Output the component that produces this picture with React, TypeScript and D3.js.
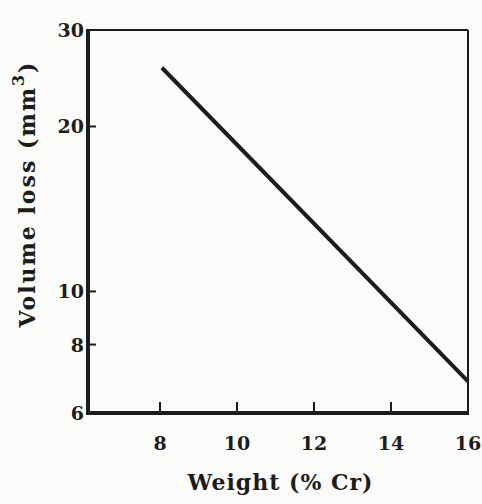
import React from "react";
import * as d3 from "d3";

// Wear volume loss vs chromium content (log volume axis)
const lineWeight: number[] = [8.05, 16];
const lineVolume: number[] = [25.6, 6.85];
const xTicks: number[] = [8, 10, 12, 14, 16];
const yTicks: number[] = [6, 8, 10, 20, 30];
const xDomain: [number, number] = [6.13, 16];
const yDomain: [number, number] = [6, 30];

const W = 482;
const H = 504;
const left = 88;
const right = 468;
const top = 30;
const bottom = 413;

export default function App() {
  const x = d3.scaleLinear().domain(xDomain).range([left, right]);
  const y = d3.scaleLog().domain(yDomain).range([bottom, top]);
  const pts: [number, number][] = lineWeight.map((w, i) => [w, lineVolume[i]]);
  const path = d3
    .line<[number, number]>()
    .x((d) => x(d[0]))
    .y((d) => y(d[1]))(pts);
  const font = "'DejaVu Serif', 'Liberation Serif', serif";
  const ink = "#1c1c1c";

  return (
    <svg
      width={W}
      height={H}
      style={{ position: "absolute", left: 0, top: 0, background: "#fbfbfa" }}
    >
      <rect x={0} y={0} width={W} height={H} fill="#fbfbfa" />
      {/* frame: heavy left/bottom axes, lighter top/right */}
      <line x1={left} y1={top} x2={right} y2={top} stroke={ink} strokeWidth={2} />
      <line x1={right} y1={top} x2={right} y2={bottom} stroke={ink} strokeWidth={2} />
      <line x1={left} y1={top - 1} x2={left} y2={bottom + 2} stroke={ink} strokeWidth={4} />
      <line x1={left - 2} y1={bottom} x2={right + 1} y2={bottom} stroke={ink} strokeWidth={4} />

      {/* y ticks (inward) */}
      {yTicks.map((t) => (
        <g key={"y" + t}>
          {t !== 30 && t !== 6 && (
            <line x1={left} x2={left + 8} y1={y(t)} y2={y(t)} stroke={ink} strokeWidth={2} />
          )}
          <text
            x={left - 4}
            y={y(t)}
            textAnchor="end"
            dominantBaseline="central"
            fontFamily={font}
            fontWeight="bold"
            fontSize={19}
            fill={ink}
          >
            {t}
          </text>
        </g>
      ))}

      {/* x ticks (upward) */}
      {xTicks.map((t) => (
        <g key={"x" + t}>
          {t !== 16 && (
            <line x1={x(t)} x2={x(t)} y1={bottom} y2={bottom - 11} stroke={ink} strokeWidth={2} />
          )}
          <text
            x={x(t)}
            y={443}
            textAnchor="middle"
            dominantBaseline="central"
            fontFamily={font}
            fontWeight="bold"
            fontSize={19}
            fill={ink}
          >
            {t}
          </text>
        </g>
      ))}

      <path d={path ?? ""} fill="none" stroke={ink} strokeWidth={4} />

      <text
        x={280}
        y={482}
        textAnchor="middle"
        dominantBaseline="central"
        fontFamily={font}
        fontWeight="bold"
        fontSize={22}
        textLength={185}
        fill={ink}
      >
        Weight (% Cr)
      </text>

      <text
        transform="translate(27,194) rotate(-90)"
        textAnchor="middle"
        dominantBaseline="central"
        fontFamily={font}
        fontWeight="bold"
        fontSize={22}
        letterSpacing={2}
        fill={ink}
      >
        Volume loss (mm
        <tspan dy={-9} fontSize={16}>3</tspan>
        <tspan dy={9}>)</tspan>
      </text>
    </svg>
  );
}
